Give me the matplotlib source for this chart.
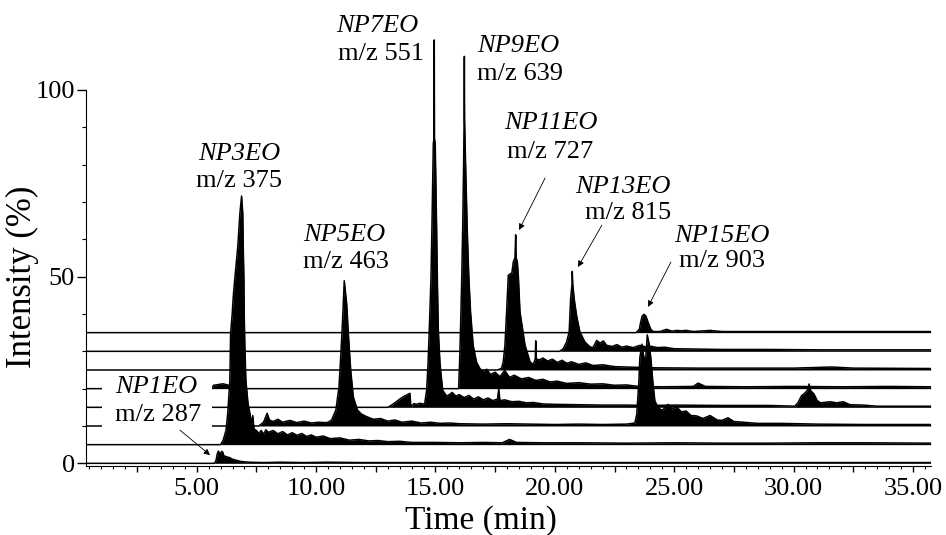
import matplotlib.pyplot as plt
from matplotlib.patches import Rectangle
from matplotlib.ticker import MultipleLocator, FixedLocator, FuncFormatter

plt.rcParams['font.family'] = ['Liberation Serif', 'DejaVu Serif']

# stacked ion traces, (time min, intensity % above own baseline)
compounds = ['NP1EO', 'NP3EO', 'NP5EO', 'NP7EO', 'NP9EO', 'NP11EO', 'NP13EO', 'NP15EO']
mz_values = [287, 375, 463, 551, 639, 727, 815, 903]
offsets = [0, 5, 10, 15, 20, 25, 30, 35]

np1eo = [(0.36, 0), (5.75, 0), (5.81, 0.8), (5.86, 2.5), (5.91, 3.3), (5.96, 2.6), (6.00, 2.7),
         (6.05, 3.2), (6.09, 3.0), (6.14, 2.0), (6.19, 1.9), (6.28, 1.7), (6.39, 1.5), (6.5, 1.1),
         (6.67, 0.8), (6.85, 0.5), (7.2, 0.3), (7.8, 0.2), (8.5, 0.3), (9.5, 0.2), (10.5, 0.3),
         (12.0, 0.2), (14.0, 0.2), (16.0, 0.2), (18.0, 0.2), (20.0, 0.2), (23.0, 0.2), (26.0, 0.2),
         (29.0, 0.2), (32.0, 0.2), (35.74, 0.2)]

np3eo = [(0.36, 0), (6.0, 0), (6.11, 1.2), (6.23, 3.9), (6.30, 8.4), (6.39, 17.3), (6.42, 29.8),
         (6.49, 35.2), (6.53, 39.6), (6.59, 44.1), (6.72, 53.0), (6.81, 62.0), (6.88, 66.6),
         (6.93, 62.0), (6.95, 53.0), (6.98, 44.0), (6.99, 35.0), (7.02, 26.0), (7.06, 17.3),
         (7.15, 11.0), (7.23, 8.4), (7.30, 5.5), (7.35, 7.8), (7.40, 4.2), (7.5, 3.8), (7.6, 3.0),
         (7.7, 3.8), (7.8, 2.8), (7.9, 4.0), (8.0, 3.3), (8.2, 3.8), (8.4, 2.9), (8.6, 3.5),
         (8.8, 2.6), (9.0, 3.2), (9.2, 2.5), (9.4, 3.0), (9.6, 2.2), (9.8, 2.6), (10.0, 2.0),
         (10.3, 2.3), (10.6, 1.6), (11.0, 1.8), (11.4, 1.2), (11.8, 1.4), (12.2, 1.0), (12.6, 1.1),
         (13.0, 0.8), (13.5, 0.9), (14.0, 0.6), (15.0, 0.6), (16.0, 0.5), (17.0, 0.6), (17.8, 0.5),
         (18.1, 1.4), (18.4, 0.6), (19.5, 0.5), (21.0, 0.5), (23.0, 0.4), (25.0, 0.5), (27.0, 0.4),
         (29.0, 0.4), (31.0, 0.5), (33.0, 0.5), (35.74, 0.4)]

np5eo = [(0.36, 0), (7.6, 0), (7.8, 1.0), (7.95, 3.4), (8.05, 1.6), (8.2, 1.2), (8.4, 1.8),
         (8.6, 1.0), (8.9, 1.5), (9.2, 0.9), (9.5, 1.3), (9.8, 0.8), (10.1, 1.0), (10.4, 0.9),
         (10.51, 1.0), (10.65, 1.6), (10.83, 4.3), (10.96, 10.5), (11.04, 19.5), (11.11, 28.4),
         (11.18, 38.9), (11.28, 32.9), (11.36, 23.9), (11.45, 15.0), (11.56, 7.8), (11.73, 4.3),
         (11.9, 3.2), (12.12, 2.5), (12.4, 1.8), (12.7, 2.0), (13.0, 1.3), (13.3, 1.6), (13.6, 1.0),
         (14.0, 1.3), (14.4, 0.8), (14.8, 1.0), (15.2, 0.7), (15.6, 0.8), (16.0, 0.6), (17.0, 0.5),
         (18.0, 0.6), (19.0, 0.5), (20.0, 0.4), (21.0, 0.5), (22.0, 0.4), (23.0, 0.5), (23.35, 0.8),
         (23.43, 3.1), (23.52, 12.1), (23.56, 18.3), (23.65, 21.9), (23.73, 18.3), (23.81, 18.5),
         (23.87, 24.4), (23.95, 22.0), (24.02, 18.3), (24.10, 12.1), (24.19, 6.7), (24.33, 4.9),
         (24.5, 4.2), (24.74, 5.8), (24.9, 4.5), (25.1, 5.1), (25.3, 3.8), (25.5, 4.0), (25.7, 2.8),
         (25.94, 2.7), (26.2, 2.0), (26.5, 2.8), (26.8, 1.6), (27.0, 1.5), (27.25, 2.2), (27.5, 1.2),
         (27.9, 1.0), (28.5, 0.7), (29.5, 0.7), (31.0, 0.5), (33.0, 0.4), (35.74, 0.4)]

np7eo = [(0.36, 0), (13.0, 0), (13.09, 0.3), (13.3, 1.2), (13.5, 2.2), (13.7, 3.0), (13.93, 3.75),
         (13.97, 0.3), (14.0, 0.3), (14.1, 1.0), (14.2, 0.8), (14.35, 1.1), (14.45, 0.9),
         (14.55, 1.0), (14.63, 4.6), (14.69, 11.8), (14.74, 20.7), (14.81, 34.1), (14.85, 47.5),
         (14.91, 70.7), (14.94, 72.0), (14.95, 98.4), (14.96, 72.0), (14.99, 70.7), (15.05, 47.5),
         (15.08, 34.1), (15.12, 20.7), (15.19, 11.8), (15.30, 4.6), (15.47, 3.0), (15.6, 3.5),
         (15.7, 4.0), (15.85, 3.0), (16.0, 3.4), (16.2, 2.6), (16.4, 3.2), (16.6, 2.2), (16.8, 2.8),
         (17.0, 2.0), (17.2, 2.5), (17.4, 1.8), (17.6, 2.2), (17.65, 5.0), (17.7, 1.8), (17.9, 2.0),
         (18.2, 1.5), (18.5, 1.6), (18.8, 1.2), (19.1, 1.3), (19.5, 0.9), (20.0, 0.8), (21.0, 0.7),
         (22.0, 0.6), (23.0, 0.6), (24.0, 0.5), (25.0, 0.6), (27.0, 0.5), (29.0, 0.5), (30.05, 0.3),
         (30.19, 1.3), (30.33, 3.1), (30.47, 3.8), (30.57, 4.5), (30.65, 6.25), (30.71, 4.5),
         (30.85, 3.6), (30.99, 1.8), (31.13, 1.2), (31.52, 1.5), (31.80, 1.2), (32.08, 1.5),
         (32.36, 0.7), (32.92, 0.6), (33.5, 0.3), (35.74, 0.3)]

np9eo = [(0.36, 0), (5.64, 0), (5.7, 0.9), (5.9, 1.1), (6.1, 1.3), (6.3, 1.0), (6.43, 0.6), (6.5, 0),
         (15.97, 0), (16.01, 7.1), (16.05, 16.1), (16.10, 29.5), (16.14, 42.9), (16.18, 60.7),
         (16.20, 72.0), (16.21, 89.0), (16.22, 72.0), (16.26, 60.7), (16.33, 42.9), (16.40, 29.5),
         (16.47, 20.5), (16.58, 11.6), (16.72, 7.1), (16.86, 5.4), (17.0, 4.6), (17.15, 5.2),
         (17.3, 3.8), (17.5, 4.4), (17.7, 3.2), (17.9, 4.9), (18.1, 3.0), (18.3, 3.6), (18.6, 2.6),
         (18.9, 3.0), (19.2, 2.2), (19.5, 2.5), (19.8, 1.8), (20.1, 2.0), (20.5, 1.4), (21.0, 1.6),
         (21.5, 1.2), (22.0, 1.3), (22.5, 0.9), (23.0, 1.0), (23.5, 0.6), (24.5, 0.5), (25.8, 0.6),
         (26.0, 1.5), (26.3, 0.6), (28.0, 0.5), (30.0, 0.6), (32.0, 0.5), (34.0, 0.6), (35.74, 0.5)]

np11eo = [(0.36, 0), (17.6, 0), (17.77, 0.5), (17.84, 2.2), (17.91, 6.7), (17.98, 15.6),
          (18.05, 25.4), (18.20, 26.0), (18.26, 29.0), (18.33, 30.0), (18.36, 36.2), (18.38, 30.0),
          (18.43, 29.0), (18.47, 25.4), (18.54, 15.6), (18.75, 6.7), (18.96, 2.2), (19.10, 1.5),
          (19.18, 3.0), (19.20, 7.8), (19.22, 3.0), (19.35, 2.7), (19.5, 3.2), (19.7, 2.4),
          (19.9, 2.9), (20.1, 2.0), (20.3, 2.6), (20.5, 1.8), (20.7, 2.2), (21.0, 1.5), (21.3, 1.9),
          (21.6, 1.2), (22.0, 1.4), (22.5, 0.9), (23.0, 0.8), (24.0, 0.6), (26.0, 0.5), (28.0, 0.5),
          (30.0, 0.5), (31.6, 0.8), (32.5, 0.5), (35.74, 0.4)]

np13eo = [(0.36, 0), (20.2, 0), (20.35, 0.7), (20.49, 2.5), (20.60, 5.2), (20.63, 9.6),
          (20.66, 14.1), (20.72, 18.0), (20.73, 21.4), (20.75, 18.0), (20.81, 14.1), (20.91, 9.6),
          (21.05, 5.2), (21.26, 2.5), (21.47, 1.2), (21.6, 1.0), (21.75, 2.9), (21.9, 2.2),
          (22.03, 2.8), (22.17, 1.6), (22.4, 1.3), (22.6, 1.8), (22.8, 1.1), (23.0, 1.4), (23.28, 1.0),
          (23.56, 1.6), (23.8, 1.2), (23.98, 1.4), (24.3, 1.0), (24.6, 1.1), (25.0, 0.7), (27.0, 0.5),
          (29.0, 0.5), (31.0, 0.4), (33.0, 0.4), (35.74, 0.4)]

np15eo = [(0.36, 0), (23.4, 0), (23.54, 0.9), (23.59, 2.7), (23.66, 4.5), (23.73, 4.9), (23.81, 4.5),
          (23.91, 2.7), (24.02, 0.9), (24.12, 0.3), (24.4, 0.3), (24.68, 0.9), (24.9, 0.4),
          (25.1, 0.6), (25.3, 0.5), (25.5, 0.6), (25.8, 0.3), (26.5, 0.6), (27.0, 0.3), (30.0, 0.3),
          (35.74, 0.3)]

traces = [np1eo, np3eo, np5eo, np7eo, np9eo, np11eo, np13eo, np15eo]

# label placement (name line, m/z line) and arrows, in data coordinates
name_pos = [(3.32, 20.5), (6.78, 82.8), (11.17, 61.2), (12.55, 117.1),
            (18.45, 111.8), (19.84, 91.1), (22.85, 74.0), (26.99, 60.9)]
mz_pos = [(3.38, 12.9), (6.78, 75.6), (11.25, 54.0), (12.72, 109.6),
          (18.54, 104.3), (19.79, 83.4), (23.06, 67.0), (26.99, 54.2)]
arrows = {0: ((4.30, 8.9), (5.56, 2.2)),
          5: ((19.59, 76.4), (18.50, 62.5)),
          6: ((21.97, 63.8), (20.97, 52.6)),
          7: ((24.86, 53.9), (23.90, 41.9))}

fig = plt.figure(figsize=(9.46, 5.35), dpi=100)
ax = fig.add_axes([0.0909, 0.1295, 0.8929, 0.8698])

for trace, base in zip(traces, offsets):
    t, h = zip(*trace)
    y = [base + v for v in h]
    ax.fill_between(t, base, y, color='black', lw=0, zorder=2)
    ax.plot(t, y, color='black', lw=1.1, zorder=2)

# white box behind the NP1EO label hides the baselines there
ax.add_patch(Rectangle((1.04, 6.1), 4.6, 18.2, facecolor='white', edgecolor='none', zorder=3))

for i, name in enumerate(compounds):
    ax.text(*name_pos[i], name, style='italic', fontsize=19, ha='center', va='center', zorder=4)
    ax.text(*mz_pos[i], f'm/z {mz_values[i]}', fontsize=19, ha='center', va='center', zorder=4)
for i, (tail, tip) in arrows.items():
    ax.annotate('', xy=tip, xytext=tail, zorder=4,
                arrowprops=dict(arrowstyle='-|>', color='black', lw=0.6,
                                mutation_scale=9, shrinkA=0, shrinkB=0))

ax.set_xlim(0.364, 35.74)
ax.set_ylim(-0.64, 124)
ax.spines['top'].set_visible(False)
ax.spines['right'].set_visible(False)
ax.spines['left'].set_bounds(-0.64, 100)

ax.xaxis.set_major_locator(MultipleLocator(2.5))
ax.xaxis.set_minor_locator(MultipleLocator(0.5))
ax.xaxis.set_major_formatter(FuncFormatter(lambda v, p: f'{v:.2f}' if abs(v % 5) < 1e-6 else ''))
ax.yaxis.set_major_locator(FixedLocator([0, 50, 100]))
ax.yaxis.set_minor_locator(FixedLocator([10, 20, 30, 40, 60, 70, 80, 90]))

ax.tick_params(axis='x', which='major', length=4.5, width=1, labelsize=19, pad=4)
ax.tick_params(axis='x', which='minor', length=2.2, width=0.8)
ax.tick_params(axis='y', which='major', length=6.5, width=1, labelsize=19, pad=1.5)
ax.tick_params(axis='y', which='minor', length=3, width=0.8)

ax.set_xlabel('Time (min)', fontsize=24)
ax.xaxis.set_label_coords(0.468, -0.085)
ax.set_ylabel('Intensity (%)', fontsize=25)
ax.yaxis.set_label_coords(-0.056, 0.405)

fig.savefig('out.png', dpi=100)
